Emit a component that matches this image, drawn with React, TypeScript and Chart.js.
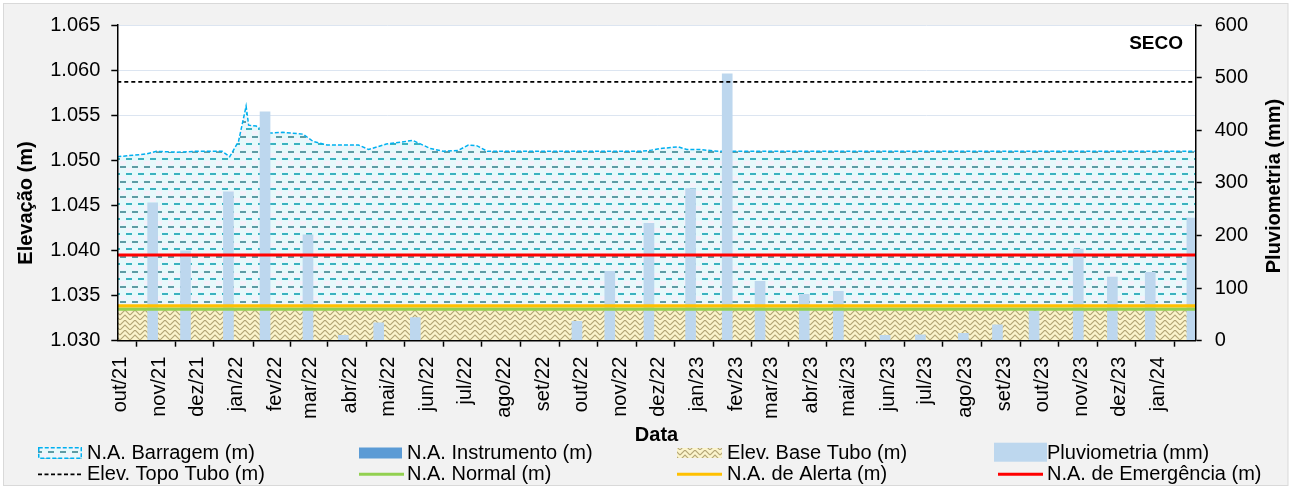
import React, { useEffect, useRef } from "react";
import { Chart, registerables } from "chart.js";

Chart.register(...registerables);

const FONT = "'Liberation Sans', Arial, Helvetica, sans-serif";

// ---- data ----
const ORIGIN = "2021-10-01";
const AXIS_END = "2024-02-02";

const monthLabels = [
  "out/21", "nov/21", "dez/21", "jan/22", "fev/22", "mar/22", "abr/22", "mai/22",
  "jun/22", "jul/22", "ago/22", "set/22", "out/22", "nov/22", "dez/22", "jan/23",
  "fev/23", "mar/23", "abr/23", "mai/23", "jun/23", "jul/23", "ago/23", "set/23",
  "out/23", "nov/23", "dez/23", "jan/24",
];

const damDates = [
  "2021-10-01", "2021-10-24", "2021-11-01", "2021-11-17", "2021-12-03", "2021-12-23",
  "2021-12-29", "2022-01-05", "2022-01-11", "2022-01-13", "2022-01-19", "2022-01-27",
  "2022-02-09", "2022-02-25", "2022-03-05", "2022-03-16", "2022-04-10", "2022-04-18",
  "2022-05-02", "2022-05-23", "2022-06-06", "2022-06-16", "2022-06-28", "2022-07-06",
  "2022-07-13", "2022-07-21", "2022-08-20", "2022-09-20", "2022-10-20", "2022-11-20",
  "2022-11-27", "2022-12-05", "2022-12-19", "2022-12-26", "2023-01-05", "2023-01-20",
  "2023-03-20", "2023-06-20", "2023-09-20", "2023-12-20", "2024-02-02",
];
const damLevels = [
  1.0504, 1.0507, 1.0510, 1.0509, 1.0510, 1.0510,
  1.0504, 1.0521, 1.0560, 1.0539, 1.0538, 1.0530,
  1.0531, 1.0529, 1.0521, 1.0517, 1.0517, 1.0512,
  1.0518, 1.0522, 1.0513, 1.0510, 1.0511, 1.0517,
  1.0516, 1.0510, 1.0510, 1.0510, 1.0510, 1.0510,
  1.0511, 1.0513, 1.0515, 1.0512, 1.0512, 1.0510,
  1.0510, 1.0510, 1.0510, 1.0510, 1.0510,
];

const rainDates = [
  "2021-10-29", "2021-11-24", "2021-12-28", "2022-01-26", "2022-03-01", "2022-03-29",
  "2022-04-26", "2022-05-25", "2022-09-30", "2022-10-26", "2022-11-26", "2022-12-29",
  "2023-01-27", "2023-02-22", "2023-03-29", "2023-04-25", "2023-06-01", "2023-06-29",
  "2023-08-02", "2023-08-29", "2023-09-27", "2023-11-01", "2023-11-28", "2023-12-28",
  "2024-01-30",
];
const rainValues = [
  262, 171, 283, 435, 201, 10,
  34, 44, 37, 132, 223, 289,
  507, 113, 88, 94, 10, 11,
  14, 30, 57, 174, 121, 130,
  233,
];

const elevTopoTubo = 1.0587;
const elevBaseTubo = 1.0334;
const naNormal = 1.0335;
const naAlerta = 1.03385;
const naEmergencia = 1.0395;

// ---- helpers ----
const DAY = 86400000;
const t0 = Date.parse(ORIGIN + "T00:00:00Z");
const dayOf = (s: string) => (Date.parse(s + "T00:00:00Z") - t0) / DAY;
const monthDays = monthLabels.map((_, i) => (Date.UTC(2021, 9 + i, 1) - t0) / DAY);

function makeWaterPattern(ctx: CanvasRenderingContext2D) {
  const c = document.createElement("canvas");
  c.width = 12;
  c.height = 15;
  const g = c.getContext("2d")!;
  g.fillStyle = "#E6F9FB";
  g.fillRect(0, 0, 12, 15);
  g.fillStyle = "#F5F1FA";
  g.fillRect(6, 3, 6, 4);
  g.fillRect(0, 11, 6, 4);
  g.fillStyle = "#5E9BA4";
  g.fillRect(0, 1, 6, 2);
  g.fillStyle = "#3BB2C0";
  g.fillRect(6, 8, 6, 2);
  return ctx.createPattern(c, "repeat")!;
}

function makeBasePattern(ctx: CanvasRenderingContext2D) {
  const c = document.createElement("canvas");
  c.width = 10;
  c.height = 10;
  const g = c.getContext("2d")!;
  g.fillStyle = "#FBF4CC";
  g.fillRect(0, 0, 10, 10);
  g.strokeStyle = "#B4A677";
  g.lineWidth = 1.1;
  g.beginPath();
  g.moveTo(0, 5); g.lineTo(5, 0); g.lineTo(10, 5);
  g.moveTo(0, 10); g.lineTo(5, 5); g.lineTo(10, 10);
  g.stroke();
  return ctx.createPattern(c, "repeat")!;
}

export default function App() {
  const ref = useRef<HTMLCanvasElement>(null);

  useEffect(() => {
    const canvas = ref.current!;
    const ctx = canvas.getContext("2d")!;
    const water = makeWaterPattern(ctx);
    const base = makeBasePattern(ctx);
    const xMax = dayOf(AXIS_END);
    const flat = (v: number) => [{ x: 0, y: v }, { x: xMax, y: v }];

    const damData = damDates.map((d, i) => ({ x: dayOf(d), y: damLevels[i] }));
    const rainData = rainDates.map((d, i) => ({ x: dayOf(d), y: rainValues[i] }));

    const bgPlugin = {
      id: "bg",
      beforeDraw(chart: any) {
        const c = chart.ctx;
        const a = chart.chartArea;
        c.save();
        c.fillStyle = "#FFFFFF";
        c.fillRect(0, 0, chart.width, chart.height);
        c.fillStyle = "#F2F2F2";
        c.fillRect(3.5, 3.5, 1284.5, 482);
        c.strokeStyle = "#D9D9D9";
        c.lineWidth = 1;
        c.strokeRect(3.5, 3.5, 1284.5, 482);
        c.fillStyle = "#FFFFFF";
        c.fillRect(a.left, a.top, a.right - a.left, a.bottom - a.top);
        c.restore();
      },
    };

    const legendItems = [
      { kind: "area", label: "N.A. Barragem (m)", x: 38, row: 0 },
      { kind: "solid", label: "N.A. Instrumento (m)", x: 359, row: 0, color: "#5B9BD5" },
      { kind: "base", label: "Elev. Base Tubo (m)", x: 677, row: 0 },
      { kind: "bar", label: "Pluviometria (mm)", x: 994, row: 0, color: "#BDD7EE" },
      { kind: "dash", label: "Elev. Topo Tubo (m)", x: 38, row: 1, color: "#000000" },
      { kind: "line", label: "N.A. Normal (m)", x: 359, row: 1, color: "#92D050" },
      { kind: "line", label: "N.A. de Alerta (m)", x: 677, row: 1, color: "#FFC000" },
      { kind: "line", label: "N.A. de Emergência (m)", x: 998, row: 1, color: "#FF0000" },
    ];

    const decorPlugin = {
      id: "decor",
      afterDraw(chart: any) {
        const c = chart.ctx;
        c.save();
        // SECO
        c.fillStyle = "#000";
        c.font = `bold 19px ${FONT}`;
        c.textAlign = "right";
        c.textBaseline = "middle";
        c.fillText("SECO", 1183, 44);
        // axis titles (both read bottom-to-top)
        c.textAlign = "center";
        c.textBaseline = "middle";
        c.font = `bold 20px ${FONT}`;
        c.save();
        c.translate(26, 203);
        c.rotate(-Math.PI / 2);
        c.fillText("Elevação (m)", 0, 0);
        c.restore();
        c.save();
        c.translate(1274.5, 186);
        c.rotate(-Math.PI / 2);
        c.fillText("Pluviometria (mm)", 0, 0);
        c.restore();
        // legend
        const rowsY = [453, 474.3];
        c.font = `20px ${FONT}`;
        c.textAlign = "left";
        c.textBaseline = "middle";
        for (const it of legendItems) {
          const y = rowsY[it.row];
          let textX = it.x + 49;
          if (it.kind === "area") {
            c.fillStyle = water;
            c.fillRect(it.x, y - 5.5, 44, 11);
            c.setLineDash([4, 2]);
            c.strokeStyle = "#00B0F0";
            c.lineWidth = 1.5;
            c.strokeRect(it.x + 0.75, y - 5.25, 42.5, 10.5);
            c.setLineDash([]);
          } else if (it.kind === "solid") {
            c.fillStyle = it.color;
            c.fillRect(it.x, y - 5.5, 43, 11);
            textX = it.x + 48;
          } else if (it.kind === "base") {
            c.fillStyle = base;
            c.fillRect(it.x, y - 5, 45, 10);
            textX = 727;
          } else if (it.kind === "bar") {
            c.fillStyle = it.color;
            c.fillRect(it.x, y - 10.3, 53, 19);
            textX = 1047;
          } else if (it.kind === "dash") {
            c.strokeStyle = it.color;
            c.lineWidth = 1.8;
            c.setLineDash([4, 2.5]);
            c.beginPath();
            c.moveTo(it.x, y);
            c.lineTo(it.x + 44, y);
            c.stroke();
            c.setLineDash([]);
          } else {
            c.strokeStyle = it.color;
            c.lineWidth = 3;
            c.beginPath();
            c.moveTo(it.x, y);
            c.lineTo(it.x + 45, y);
            c.stroke();
            textX = it.x === 998 ? 1047 : it.x === 677 ? 727 : it.x + 48;
          }
          c.fillStyle = "#000";
          c.fillText(it.label, textX, y);
        }
        c.restore();
      },
    };

    const lineDefaults = { type: "line" as const, pointRadius: 0, pointHoverRadius: 0, tension: 0, yAxisID: "y" };

    const chart = new Chart(ctx, {
      type: "line",
      data: {
        datasets: [
          {
            ...lineDefaults,
            label: "N.A. Barragem (m)",
            data: damData,
            borderColor: "#00B0F0",
            borderWidth: 1.5,
            borderDash: [4, 2],
            backgroundColor: water,
            fill: "start",
            order: 10,
          },
          {
            ...lineDefaults,
            label: "N.A. Instrumento (m)",
            data: [],
            borderColor: "#5B9BD5",
            backgroundColor: "#5B9BD5",
            order: 7,
          },
          {
            ...lineDefaults,
            label: "Elev. Base Tubo (m)",
            data: flat(elevBaseTubo),
            borderWidth: 0,
            borderColor: "rgba(0,0,0,0)",
            backgroundColor: base,
            fill: "start",
            order: 9,
          },
          {
            type: "bar",
            label: "Pluviometria (mm)",
            data: rainData,
            backgroundColor: "#BDD7EE",
            barThickness: 10,
            yAxisID: "y1",
            order: 8,
          },
          {
            ...lineDefaults,
            label: "Elev. Topo Tubo (m)",
            data: flat(elevTopoTubo),
            borderColor: "#000000",
            borderWidth: 1.8,
            borderDash: [4, 3],
            fill: false,
            order: 5,
          },
          {
            ...lineDefaults,
            label: "N.A. Normal (m)",
            data: flat(naNormal),
            borderColor: "#92D050",
            borderWidth: 3.2,
            fill: false,
            order: 4,
          },
          {
            ...lineDefaults,
            label: "N.A. de Alerta (m)",
            data: flat(naAlerta),
            borderColor: "#FFC000",
            borderWidth: 3.2,
            fill: false,
            order: 3,
          },
          {
            ...lineDefaults,
            label: "N.A. de Emergência (m)",
            data: flat(naEmergencia),
            borderColor: "#FF0000",
            borderWidth: 3,
            fill: false,
            order: 2,
          },
        ] as any,
      },
      options: {
        animation: false,
        responsive: false,
        devicePixelRatio: 1,
        events: [],
        layout: { padding: { left: 0, right: 0, top: 22.3, bottom: 38 } },
        plugins: {
          legend: { display: false },
          tooltip: { enabled: false },
        },
        scales: {
          x: {
            type: "linear",
            min: 0,
            max: xMax,
            offset: false,
            afterBuildTicks: (s: any) => {
              s.ticks = monthDays.map((v) => ({ value: v }));
            },
            afterFit: (s: any) => {
              s.height = 110.3;
            },
            ticks: {
              autoSkip: false,
              minRotation: 90,
              maxRotation: 90,
              padding: 10,
              labelOffset: 3,
              color: "#000",
              font: { size: 20, family: FONT },
              callback: (_v: any, i: number) => monthLabels[i],
            },
            grid: {
              drawOnChartArea: false,
              tickLength: 6,
              tickColor: "#000",
              tickWidth: 1.5,
            },
            border: { color: "#000", width: 1.5, z: 1 },
            title: {
              display: true,
              text: "Data",
              color: "#000",
              font: { size: 20, weight: "bold", family: FONT },
              padding: { top: 0, bottom: 4 },
            },
          },
          y: {
            type: "linear",
            position: "left",
            min: 1.03,
            max: 1.065,
            afterFit: (s: any) => {
              s.width = 117.3;
            },
            ticks: {
              stepSize: 0.005,
              padding: 11,
              color: "#000",
              font: { size: 20, family: FONT },
              callback: (v: any) => Number(v).toFixed(3),
            },
            grid: {
              color: "#DCE5F1",
              lineWidth: 1,
              tickLength: 6,
              tickColor: "#000",
              tickWidth: 1.5,
            },
            border: { color: "#000", width: 1.5, z: 1 },
          },
          y1: {
            type: "linear",
            position: "right",
            min: 0,
            max: 600,
            afterFit: (s: any) => {
              s.width = 94.3;
            },
            ticks: {
              stepSize: 100,
              padding: 13,
              color: "#000",
              font: { size: 20, family: FONT },
            },
            grid: {
              drawOnChartArea: false,
              tickLength: 6,
              tickColor: "#000",
              tickWidth: 1.5,
            },
            border: { color: "#000", width: 1.5, z: 1 },
          },
        },
      } as any,
      plugins: [bgPlugin, decorPlugin],
    });

    return () => chart.destroy();
  }, []);

  return (
    <div style={{ position: "absolute", left: 0, top: 0, width: 1290, height: 489 }}>
      <canvas ref={ref} width={1290} height={489} style={{ display: "block" }} />
    </div>
  );
}
